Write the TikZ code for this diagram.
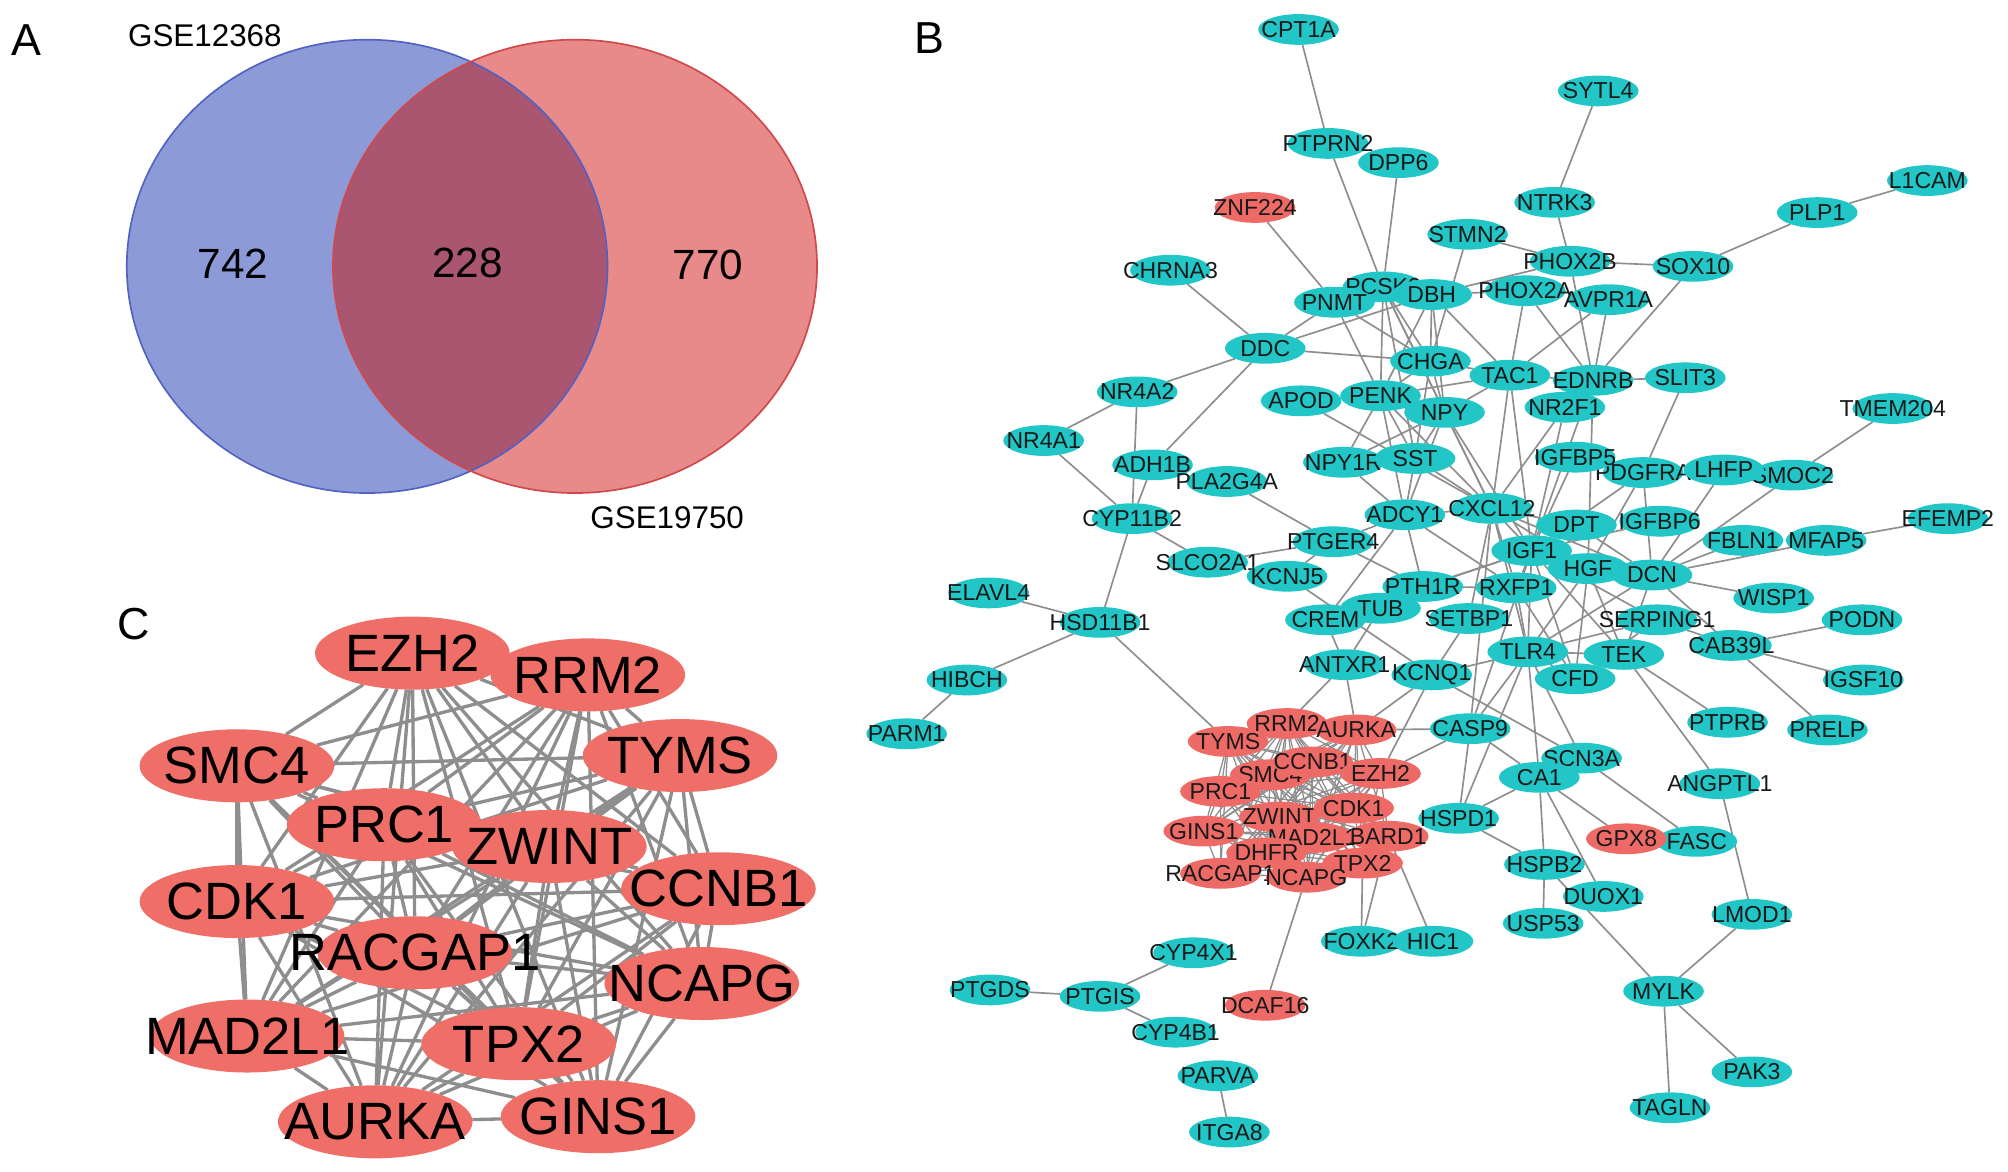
\documentclass[tikz,border=0pt]{standalone}
\usepackage{fontspec}
\setmainfont{Liberation Sans}
\usetikzlibrary{shapes.geometric,backgrounds}
\definecolor{cy}{HTML}{22C6C6}
\definecolor{rd}{HTML}{EE6A66}
\definecolor{rdC}{HTML}{F06E68}
\definecolor{eg}{HTML}{8E8E8E}
\definecolor{vb}{HTML}{8C9BD8}
\definecolor{vbE}{HTML}{5262C2}
\definecolor{vr}{HTML}{E88A8A}
\definecolor{vrE}{HTML}{D0484A}
\definecolor{vo}{HTML}{AA5670}
\newcommand\gnode[4]{\node[#1,label={[blab]center:#2}] (b-#2) at (#3,#4) {};}
\newcommand\cnode[3]{\node[cn,label={[clab]center:#1}] (c-#1) at (#2,#3) {};}
\newcommand\bedge[2]{\draw[be] (b-#1) -- (b-#2);}
\begin{document}
\begin{tikzpicture}[x=1pt,y=-1pt,
  bn/.style={ellipse,fill=cy,minimum width=63pt,minimum height=24pt,inner sep=0pt,outer sep=0pt},
  br/.style={bn,fill=rd},
  blab/.style={font=\fontsize{18}{18}\selectfont,text=black!90,inner sep=0pt},
  cn/.style={ellipse,fill=rdC,minimum width=152pt,minimum height=57pt,inner sep=0pt,outer sep=0pt},
  clab/.style={font=\fontsize{41}{41}\selectfont,text=black,inner sep=0pt},
  be/.style={draw=eg,line width=1.3pt},
  ce/.style={draw=eg,line width=2.6pt},
  plab/.style={font=\fontsize{35}{35}\selectfont,inner sep=0pt},
  vlab/.style={font=\fontsize{24.5}{24.5}\selectfont,inner sep=0pt},
  vnum/.style={font=\fontsize{33}{33}\selectfont,inner sep=0pt}]
\useasboundingbox (0,0) rectangle (1568,915);

% ---------- Panel A ----------
\node[plab] (labA) at (21,31) {A};
\fill[vb] (286.7,208) ellipse [x radius=187.7pt, y radius=177pt];
\fill[vr] (449,208) ellipse [x radius=189pt, y radius=177pt];
\begin{scope}
\clip (286.7,208) ellipse [x radius=187.7pt, y radius=177pt];
\fill[vo] (449,208) ellipse [x radius=189pt, y radius=177pt];
\end{scope}
\draw[vbE,line width=1.3pt] (286.7,208) ellipse [x radius=187.7pt, y radius=177pt];
\draw[vrE,line width=1.3pt] (449,208) ellipse [x radius=189pt, y radius=177pt];
\node[vlab] (s1) at (160,28) {GSE12368};
\node[vlab] (s2) at (521,404) {GSE19750};
\node[vnum] (n1) at (182,206) {742};
\node[vnum] (n2) at (365,205) {228};
\node[vnum] (n3) at (553,207) {770};

% ---------- Panel C ----------
\node[plab] (labC) at (104,487) {C};
\cnode{EZH2}{322}{510}
\cnode{RRM2}{459}{527}
\cnode{SMC4}{185}{598}
\cnode{TYMS}{531}{590}
\cnode{PRC1}{300}{644}
\cnode{ZWINT}{429}{661}
\cnode{CDK1}{185}{704}
\cnode{CCNB1}{561}{694}
\cnode{RACGAP1}{324}{744}
\cnode{NCAPG}{548}{768}
\cnode{MAD2L1}{193}{809}
\cnode{TPX2}{405}{815}
\cnode{AURKA}{293}{876}
\cnode{GINS1}{467}{872}
\begin{scope}[on background layer]
\def\clist{EZH2,RRM2,SMC4,TYMS,PRC1,ZWINT,CDK1,CCNB1,RACGAP1,NCAPG,MAD2L1,TPX2,AURKA,GINS1}
\foreach \a [count=\i] in \clist {\foreach \b [count=\j] in \clist {\ifnum\j>\i \draw[ce] (c-\a) -- (c-\b);\fi}}
\end{scope}

% ---------- Panel B ----------
\node[plab] (labB) at (726,30) {B};
\gnode{bn}{CPT1A}{1014}{23}
\gnode{bn}{SYTL4}{1248}{71}
\gnode{bn}{L1CAM}{1505}{141}
\gnode{bn}{PTPRN2}{1037}{112}
\gnode{bn}{DPP6}{1092}{127}
\gnode{br}{ZNF224}{980}{162}
\gnode{bn}{NTRK3}{1214}{158}
\gnode{bn}{PLP1}{1419}{166}
\gnode{bn}{STMN2}{1146}{183}
\gnode{bn}{CHRNA3}{914}{211}
\gnode{bn}{PCSK2}{1080}{224}
\gnode{bn}{PHOX2B}{1226}{204}
\gnode{bn}{SOX10}{1322}{208}
\gnode{bn}{PNMT}{1042}{236}
\gnode{bn}{DBH}{1118}{230}
\gnode{bn}{PHOX2A}{1191}{227}
\gnode{bn}{AVPR1A}{1256}{234}
\gnode{bn}{DDC}{988}{272}
\gnode{bn}{CHGA}{1117}{282}
\gnode{bn}{TAC1}{1179}{293}
\gnode{bn}{EDNRB}{1244}{297}
\gnode{bn}{SLIT3}{1316}{295}
\gnode{bn}{NR4A2}{888}{306}
\gnode{bn}{APOD}{1016}{313}
\gnode{bn}{PENK}{1078}{309}
\gnode{bn}{NPY}{1128}{322}
\gnode{bn}{NR2F1}{1222}{318}
\gnode{bn}{TMEM204}{1478}{319}
\gnode{bn}{NR4A1}{815}{344}
\gnode{bn}{NPY1R}{1049}{361}
\gnode{bn}{SST}{1105}{358}
\gnode{bn}{PDGFRA}{1283}{369}
\gnode{bn}{IGFBP5}{1230}{357}
\gnode{bn}{SMOC2}{1400}{371}
\gnode{bn}{LHFP}{1346}{367}
\gnode{bn}{ADH1B}{900}{363}
\gnode{bn}{PLA2G4A}{958}{376}
\gnode{bn}{ADCY1}{1097}{402}
\gnode{bn}{CXCL12}{1165}{397}
\gnode{bn}{CYP11B2}{884}{405}
\gnode{bn}{DPT}{1231}{410}
\gnode{bn}{IGFBP6}{1296}{407}
\gnode{bn}{FBLN1}{1361}{422}
\gnode{bn}{MFAP5}{1426}{422}
\gnode{bn}{EFEMP2}{1521}{405}
\gnode{bn}{PTGER4}{1041}{423}
\gnode{bn}{IGF1}{1196}{430}
\gnode{bn}{SLCO2A1}{943}{439}
\gnode{bn}{DCN}{1290}{449}
\gnode{bn}{HGF}{1240}{444}
\gnode{bn}{KCNJ5}{1005}{450}
\gnode{bn}{PTH1R}{1111}{458}
\gnode{bn}{RXFP1}{1184}{459}
\gnode{bn}{ELAVL4}{772}{463}
\gnode{bn}{WISP1}{1385}{467}
\gnode{bn}{TUB}{1078}{475}
\gnode{bn}{CREM}{1035}{484}
\gnode{bn}{SETBP1}{1147}{483}
\gnode{bn}{SERPING1}{1294}{484}
\gnode{bn}{HSD11B1}{859}{486}
\gnode{bn}{PODN}{1454}{484}
\gnode{bn}{TLR4}{1193}{509}
\gnode{bn}{TEK}{1268}{511}
\gnode{bn}{CAB39L}{1352}{504}
\gnode{bn}{ANTXR1}{1050}{519}
\gnode{bn}{KCNQ1}{1118}{527}
\gnode{bn}{CFD}{1230}{530}
\gnode{bn}{IGSF10}{1455}{531}
\gnode{bn}{HIBCH}{755}{531}
\gnode{bn}{PTPRB}{1349}{564}
\gnode{bn}{PRELP}{1427}{570}
\gnode{bn}{CASP9}{1148}{569}
\gnode{bn}{PARM1}{708}{573}
\gnode{bn}{SCN3A}{1235}{592}
\gnode{bn}{CA1}{1202}{607}
\gnode{bn}{ANGPTL1}{1343}{612}
\gnode{bn}{HSPD1}{1139}{639}
\gnode{bn}{FASC}{1325}{657}
\gnode{br}{GPX8}{1270}{655}
\gnode{bn}{HSPB2}{1206}{675}
\gnode{bn}{DUOX1}{1252}{700}
\gnode{bn}{LMOD1}{1368}{714}
\gnode{bn}{USP53}{1205}{721}
\gnode{bn}{FOXK2}{1063}{735}
\gnode{bn}{HIC1}{1119}{735}
\gnode{bn}{CYP4X1}{932}{744}
\gnode{bn}{MYLK}{1299}{774}
\gnode{bn}{PTGDS}{773}{773}
\gnode{bn}{PTGIS}{859}{778}
\gnode{br}{DCAF16}{988}{785}
\gnode{bn}{CYP4B1}{918}{806}
\gnode{bn}{PAK3}{1368}{837}
\gnode{bn}{PARVA}{951}{840}
\gnode{bn}{TAGLN}{1304}{865}
\gnode{bn}{ITGA8}{960}{884}
% red cluster
\gnode{br}{TYMS}{959}{579}
\gnode{br}{RRM2}{1005}{565}
\gnode{br}{AURKA}{1059}{570}
\gnode{br}{SMC4}{992}{605}
\gnode{br}{CCNB1}{1025}{595}
\gnode{br}{EZH2}{1078}{604}
\gnode{br}{PRC1}{953}{618}
\gnode{br}{ZWINT}{999}{638}
\gnode{br}{CDK1}{1057}{631}
\gnode{br}{GINS1}{940}{649}
\gnode{br}{MAD2L1}{1025}{654}
\gnode{br}{DHFR}{989}{666}
\gnode{br}{BARD1}{1084}{653}
\gnode{br}{TPX2}{1064}{674}
\gnode{br}{RACGAP1}{953}{682}
\gnode{br}{NCAPG}{1020}{685}

\begin{scope}[on background layer]
\def\blist{TYMS,RRM2,AURKA,SMC4,CCNB1,EZH2,PRC1,ZWINT,CDK1,GINS1,MAD2L1,DHFR,BARD1,TPX2,RACGAP1,NCAPG}
\foreach \a [count=\i] in \blist {\foreach \b [count=\j] in \blist {\ifnum\j>\i \draw[be,line width=1pt] (b-\a) -- (b-\b);\fi}}
% periphery
\bedge{CPT1A}{PTPRN2}\bedge{PTPRN2}{PCSK2}\bedge{DPP6}{PCSK2}\bedge{ZNF224}{PNMT}
\bedge{SYTL4}{NTRK3}\bedge{NTRK3}{PHOX2B}\bedge{STMN2}{PHOX2B}\bedge{STMN2}{CHGA}
\bedge{PHOX2B}{SOX10}\bedge{PHOX2B}{DBH}\bedge{PHOX2A}{DBH}\bedge{PHOX2B}{EDNRB}
\bedge{AVPR1A}{EDNRB}\bedge{PHOX2A}{EDNRB}\bedge{PHOX2A}{TAC1}\bedge{AVPR1A}{TAC1}
\bedge{SOX10}{EDNRB}\bedge{SOX10}{PLP1}\bedge{PLP1}{L1CAM}\bedge{EDNRB}{SLIT3}
\bedge{SLIT3}{PDGFRA}\bedge{TAC1}{EDNRB}\bedge{DBH}{TAC1}\bedge{DBH}{CHGA}
\bedge{DDC}{PNMT}\bedge{DDC}{DBH}\bedge{DDC}{CHGA}\bedge{CHRNA3}{DDC}
\bedge{DDC}{NR4A2}\bedge{DDC}{ADH1B}\bedge{NR4A2}{NR4A1}\bedge{NR4A2}{CYP11B2}
\bedge{ADH1B}{CYP11B2}\bedge{NR4A1}{CYP11B2}\bedge{CYP11B2}{SLCO2A1}\bedge{CYP11B2}{HSD11B1}
\bedge{ELAVL4}{HSD11B1}\bedge{HSD11B1}{HIBCH}\bedge{HIBCH}{PARM1}\bedge{HSD11B1}{TYMS}
\bedge{PLA2G4A}{PTGER4}\bedge{SLCO2A1}{PTGER4}\bedge{TMEM204}{SMOC2}\bedge{EFEMP2}{MFAP5}
\bedge{LHFP}{DCN}\bedge{SMOC2}{DCN}\bedge{FBLN1}{DCN}\bedge{MFAP5}{DCN}
\bedge{WISP1}{DCN}\bedge{DCN}{CAB39L}\bedge{SERPING1}{CAB39L}\bedge{CAB39L}{PODN}
\bedge{CAB39L}{IGSF10}\bedge{CAB39L}{PRELP}\bedge{PDGFRA}{DCN}\bedge{TEK}{PTPRB}
\bedge{TEK}{ANGPTL1}\bedge{ANGPTL1}{LMOD1}\bedge{LMOD1}{MYLK}\bedge{MYLK}{TAGLN}
\bedge{MYLK}{PAK3}\bedge{HSPB2}{MYLK}\bedge{HSPB2}{USP53}\bedge{HSPD1}{HSPB2}
\bedge{CA1}{HSPD1}\bedge{CA1}{HSPB2}\bedge{CA1}{DUOX1}\bedge{CA1}{GPX8}
\bedge{SCN3A}{FASC}\bedge{KCNQ1}{SCN3A}\bedge{BARD1}{HIC1}\bedge{TPX2}{FOXK2}
\bedge{BARD1}{FOXK2}\bedge{NCAPG}{DCAF16}\bedge{PTGDS}{PTGIS}\bedge{PTGIS}{CYP4X1}
\bedge{PTGIS}{CYP4B1}\bedge{PARVA}{ITGA8}
% cluster to outside
\bedge{RRM2}{ANTXR1}\bedge{AURKA}{ANTXR1}\bedge{AURKA}{KCNQ1}\bedge{EZH2}{KCNQ1}
\bedge{AURKA}{CASP9}\bedge{EZH2}{CASP9}\bedge{HSPD1}{CASP9}\bedge{HSPD1}{TLR4}
% centre
\bedge{PCSK2}{PNMT}\bedge{PCSK2}{DBH}\bedge{PCSK2}{CHGA}\bedge{PCSK2}{PENK}
\bedge{PCSK2}{NPY}\bedge{PCSK2}{SST}\bedge{PCSK2}{CXCL12}\bedge{PNMT}{PENK}
\bedge{PNMT}{CHGA}\bedge{PNMT}{DBH}\bedge{DBH}{NPY}\bedge{DBH}{PENK}
\bedge{CHGA}{NPY}\bedge{CHGA}{SST}\bedge{CHGA}{TAC1}\bedge{CHGA}{PENK}
\bedge{TAC1}{NPY}\bedge{TAC1}{CXCL12}\bedge{TAC1}{IGF1}\bedge{TAC1}{PENK}
\bedge{EDNRB}{IGF1}\bedge{EDNRB}{HGF}\bedge{APOD}{CXCL12}\bedge{APOD}{PENK}
\bedge{PENK}{NPY1R}\bedge{PENK}{SST}\bedge{PENK}{NPY}\bedge{PENK}{CXCL12}
\bedge{PENK}{ADCY1}\bedge{NPY}{NPY1R}\bedge{NPY}{SST}\bedge{NPY}{CXCL12}
\bedge{NPY}{IGF1}\bedge{NPY}{ADCY1}\bedge{SST}{NPY1R}\bedge{SST}{ADCY1}
\bedge{SST}{CXCL12}\bedge{NPY1R}{ADCY1}\bedge{ADCY1}{CXCL12}\bedge{ADCY1}{PTH1R}
\bedge{ADCY1}{RXFP1}\bedge{ADCY1}{PTGER4}\bedge{ADCY1}{CREM}\bedge{CXCL12}{IGF1}
\bedge{CXCL12}{HGF}\bedge{CXCL12}{DPT}\bedge{CXCL12}{TLR4}\bedge{CXCL12}{RXFP1}
\bedge{CXCL12}{CASP9}\bedge{CXCL12}{DCN}\bedge{IGF1}{IGFBP5}\bedge{IGF1}{IGFBP6}
\bedge{IGF1}{HGF}\bedge{IGF1}{DCN}\bedge{IGF1}{PDGFRA}\bedge{IGF1}{TLR4}
\bedge{IGF1}{CASP9}\bedge{IGF1}{PTH1R}\bedge{IGF1}{RXFP1}\bedge{IGF1}{TEK}
\bedge{IGF1}{SERPING1}\bedge{IGF1}{CREM}\bedge{IGF1}{NR2F1}\bedge{IGF1}{DPT}
\bedge{IGF1}{CFD}\bedge{HGF}{DCN}\bedge{HGF}{TEK}\bedge{HGF}{PDGFRA}
\bedge{HGF}{TLR4}\bedge{HGF}{CFD}\bedge{DPT}{DCN}\bedge{NR2F1}{CXCL12}
\bedge{RXFP1}{PTH1R}\bedge{RXFP1}{TLR4}\bedge{RXFP1}{CFD}\bedge{TLR4}{CASP9}
\bedge{TLR4}{CA1}\bedge{TLR4}{SCN3A}\bedge{TLR4}{TEK}\bedge{TLR4}{SERPING1}
\bedge{TLR4}{KCNQ1}\bedge{TLR4}{CFD}\bedge{CASP9}{CA1}\bedge{SETBP1}{KCNQ1}
\bedge{SETBP1}{CXCL12}\bedge{CREM}{ANTXR1}\bedge{CREM}{TUB}\bedge{TUB}{ANTXR1}
\bedge{TUB}{PTH1R}\bedge{KCNJ5}{KCNQ1}\bedge{KCNJ5}{PTGER4}\bedge{PTGER4}{PTH1R}
\bedge{SERPING1}{CFD}\bedge{TEK}{CFD}\bedge{DCN}{TLR4}\bedge{DCN}{TEK}
\end{scope}
\end{tikzpicture}
\end{document}
